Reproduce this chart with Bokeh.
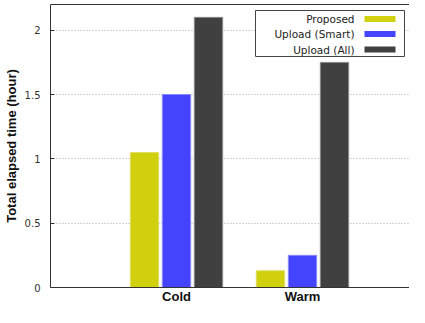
from bokeh.plotting import figure
from bokeh.models import Range1d, FixedTicker, LinearAxis, BoxAnnotation, Label, ColumnDataSource
from bokeh.transform import dodge
from bokeh.embed import file_html
from bokeh.resources import INLINE

# ---- data ----
categories = ["Cold", "Warm"]
series_names = ["Proposed", "Upload (Smart)", "Upload (All)"]
proposed = [1.05, 0.13]
upload_smart = [1.50, 0.25]
upload_all = [2.10, 1.75]
y_ticks = [0, 0.5, 1, 1.5, 2]
y_tick_labels = ["0", "0.5", "1", "1.5", "2"]

colors = ["#d0d00f", "#4444fd", "#404040"]
edge_colors = ["#dede66", "#8a8aff", "#8a8a8a"]
x_pos = [i + 1 for i in range(len(categories))]

src = ColumnDataSource(dict(x=x_pos, proposed=proposed, smart=upload_smart, all=upload_all))

# ---- layout ----
W, H = 409, 307
LEFT, BOTTOM, TOP = 50, 20, 4
XS = 126.0                      # px per x unit
X_END = (W - LEFT) / XS
Y_END = 2.2
YS = (H - BOTTOM - TOP) / Y_END  # px per y unit

p = figure(width=W, height=H, output_backend="svg", toolbar_location=None,
           x_range=Range1d(0, X_END), y_range=Range1d(0, Y_END),
           min_border_left=LEFT, min_border_right=0, min_border_top=TOP, min_border_bottom=BOTTOM)
p.outline_line_color = None
p.background_fill_color = "white"
p.border_fill_color = "white"

offsets = [-0.254, 0.0, 0.254]
cols = ["proposed", "smart", "all"]
for off, col, c, ec in zip(offsets, cols, colors, edge_colors):
    p.vbar(x=dodge("x", off, range=p.x_range), top=col, width=0.225, source=src,
           fill_color=c, line_color=ec, line_width=1)

yax = p.yaxis[0]
yax.ticker = FixedTicker(ticks=y_ticks)
yax.major_label_overrides = {t: l for t, l in zip(y_ticks, y_tick_labels)}
yax.major_tick_in = 4
yax.major_tick_out = 0
yax.minor_tick_line_color = None
yax.axis_line_color = "#333333"
yax.major_tick_line_color = "#333333"
yax.major_label_text_font = "DejaVu Sans"
yax.major_label_text_font_size = "10px"
yax.major_label_text_color = "#333333"
yax.major_label_standoff = 10
yax.axis_label = "Total elapsed time (hour)"
yax.axis_label_text_font = "Liberation Sans"
yax.axis_label_text_font_style = "bold"
yax.axis_label_text_font_size = "13px"
yax.axis_label_text_color = "#111111"
yax.axis_label_standoff = 3

xax = p.xaxis[0]
xax.ticker = FixedTicker(ticks=x_pos)
xax.major_label_overrides = {x: c for x, c in zip(x_pos, categories)}
xax.major_tick_line_color = None
xax.major_tick_in = 0
xax.major_tick_out = 0
xax.minor_tick_line_color = None
xax.axis_line_color = "#333333"
xax.major_label_text_font = "Liberation Sans"
xax.major_label_text_font_style = "bold"
xax.major_label_text_font_size = "13px"
xax.major_label_text_color = "#111111"
xax.major_label_standoff = 1

top_ax = LinearAxis(ticker=FixedTicker(ticks=[]), major_tick_line_color=None,
                    minor_tick_line_color=None, major_label_text_font_size="0px",
                    major_label_standoff=0, major_tick_out=0, major_tick_in=0,
                    axis_line_color="#333333")
p.add_layout(top_ax, "above")

p.xgrid.grid_line_color = None
p.ygrid.ticker = FixedTicker(ticks=y_ticks)
p.ygrid.grid_line_color = "#aaaaaa"
p.ygrid.grid_line_dash = "1 2"

# ---- custom legend (text left, swatch right), placed in canvas pixels ----
def dx(px):
    return (px - LEFT) / XS
def dy(py):
    return (H - BOTTOM - py) / YS

p.add_layout(BoxAnnotation(left=dx(255), right=dx(404), top=dy(10), bottom=dy(56),
                           fill_color="white", fill_alpha=1.0,
                           line_color="#444444", line_width=1, line_alpha=1.0))
row_y = [18.5, 33.5, 49]
for name, c, ry in zip(series_names, colors, row_y):
    p.add_layout(BoxAnnotation(left=dx(364), right=dx(395), top=dy(ry - 3), bottom=dy(ry + 3),
                               fill_color=c, fill_alpha=1.0, line_color=None))
    p.add_layout(Label(x=dx(354), y=dy(ry), text=name, text_align="right",
                       text_baseline="middle", text_font="DejaVu Sans",
                       text_font_size="10.5px", text_color="#222222"))

open("out.html", "w").write(file_html(p, INLINE))
